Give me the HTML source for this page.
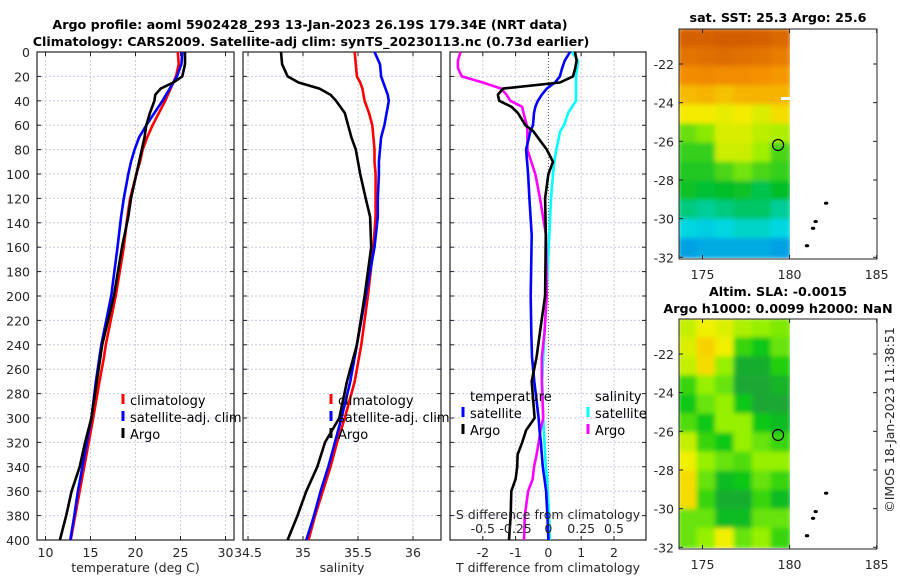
<!DOCTYPE html>
<html><head><meta charset="utf-8">
<style>
html,body{margin:0;padding:0;background:#fff;}
svg{display:block;font-family:"DejaVu Sans","Liberation Sans",sans-serif;}
.tk{font-size:12.5px;fill:#262626;}
.tt{font-size:12.7px;font-weight:bold;fill:#000;}
.lg{font-size:13px;fill:#000;}
</style></head>
<body>
<svg id="fig" width="900" height="580" viewBox="0 0 900 580" xmlns="http://www.w3.org/2000/svg">
<defs><filter id="sm" x="0" y="0" width="1" height="1"><feGaussianBlur stdDeviation="2.5"/></filter>
<clipPath id="c1"><rect x="679" y="29" width="111" height="229"/></clipPath>
<clipPath id="c2"><rect x="679" y="319" width="111" height="229"/></clipPath></defs>
<text class="tt" x="310" y="29" text-anchor="middle">Argo profile: aoml 5902428_293 13-Jan-2023 26.19S 179.34E (NRT data)</text>
<text class="tt" x="311" y="46" text-anchor="middle">Climatology: CARS2009. Satellite-adj clim: synTS_20230113.nc (0.73d earlier)</text>
<g id="plots"></g>
<text class="tt" x="778" y="22" text-anchor="middle">sat. SST: 25.3 Argo: 25.6</text>
<text class="tt" x="778" y="296" text-anchor="middle">Altim. SLA: -0.0015</text>
<text class="tt" x="778" y="313" text-anchor="middle">Argo h1000: 0.0099 h2000: NaN</text>
<text class="tk" x="0" y="0" transform="translate(894,420) rotate(-90)" text-anchor="middle">©IMOS 18-Jan-2023 11:38:51</text>
</svg>
<script>
// ---- profile data ----
const depths = [0,10,20,25,30,35,40,50,60,70,80,90,100,120,135,160,200,240,250,270,300,320,340,360,380,400];
const tempClim = [24.7,24.8,24.5,24.2,23.9,23.6,23.3,22.6,21.9,21.3,20.8,20.5,20.1,19.4,19.1,18.7,17.8,16.7,16.5,16.0,15.3,14.8,14.3,13.8,13.3,12.8];
const tempSat  = [25.2,25.1,24.6,24.2,23.8,23.4,23.0,22.1,21.2,20.4,19.9,19.5,19.2,18.7,18.4,18.0,17.3,16.2,16.0,15.6,15.1,14.6,14.1,13.6,13.2,12.75];
const tempArgo = [25.5,25.5,25.2,24.2,22.8,22.2,22.1,21.6,21.2,21.0,20.7,20.4,20.1,19.5,19.2,18.5,17.6,16.3,16.1,15.7,15.1,14.4,13.8,12.9,12.3,11.6];
const salClim = [35.47,35.48,35.49,35.52,35.54,35.55,35.56,35.60,35.63,35.64,35.65,35.65,35.66,35.66,35.66,35.64,35.59,35.53,35.51,35.47,35.38,35.31,35.25,35.18,35.11,35.05];
const salSat  = [35.65,35.70,35.71,35.73,35.75,35.77,35.78,35.76,35.74,35.71,35.70,35.69,35.69,35.68,35.68,35.65,35.57,35.49,35.47,35.43,35.35,35.29,35.23,35.16,35.10,35.03];
const salArgo = [34.80,34.81,34.86,34.96,35.15,35.25,35.30,35.38,35.41,35.44,35.48,35.50,35.52,35.57,35.61,35.62,35.56,35.49,35.46,35.40,35.33,35.20,35.13,35.03,34.95,34.86];
const diffDepths = [0,7,13,20,25,30,35,40,45,50,60,65,80,90,100,120,150,200,230,250,270,300,310,320,330,340,350,360,380,400];
const dTSat  = [0.66,0.5,0.42,0.35,0.2,-0.05,-0.2,-0.32,-0.4,-0.44,-0.47,-0.55,-0.68,-0.65,-0.62,-0.58,-0.51,-0.54,-0.52,-0.5,-0.43,-0.3,-0.27,-0.23,-0.2,-0.17,-0.12,-0.07,-0.03,0.0];
const dTArgo = [0.81,0.86,0.82,0.75,0.35,-1.38,-1.54,-1.5,-1.12,-0.93,-0.7,-0.46,-0.05,0.14,0.0,-0.1,-0.08,-0.1,-0.26,-0.36,-0.51,-0.42,-0.68,-0.8,-0.94,-0.95,-1.0,-1.13,-1.15,-1.2];
const dSSat  = [0.18,0.225,0.22,0.21,0.21,0.21,0.21,0.21,0.18,0.15,0.12,0.09,0.06,0.045,0.035,0.02,0.007,-0.015,-0.03,-0.04,-0.047,-0.04,-0.035,-0.03,-0.025,-0.02,-0.01,-0.005,0.005,0.01];
const dSArgo = [-0.67,-0.69,-0.69,-0.66,-0.5,-0.36,-0.32,-0.29,-0.2,-0.19,-0.165,-0.16,-0.16,-0.13,-0.1,-0.064,-0.018,-0.013,-0.03,-0.05,-0.05,-0.04,-0.06,-0.074,-0.09,-0.11,-0.12,-0.155,-0.18,-0.186];
const tempTicks = [10,15,20,25,30];
const salTicks = [34.5,35,35.5,36];
const dTTicks = [-2,-1,0,1,2];
const dSTickLabels = ["-0.5","-0.25","0","0.25","0.5"];
const depthTicks = [0,20,40,60,80,100,120,140,160,180,200,220,240,260,280,300,320,340,360,380,400];
// ---- map data (0..1 colour index), rows north->south, cols west->east ----
const sstGrid = [
[0.97,0.97,0.98,0.98,0.97,0.95],
[0.92,0.93,0.94,0.93,0.92,0.90],
[0.86,0.87,0.86,0.86,0.85,0.84],
[0.79,0.80,0.78,0.80,0.80,0.80],
[0.72,0.72,0.70,0.72,0.68,0.74],
[0.55,0.58,0.68,0.68,0.64,0.62],
[0.50,0.50,0.66,0.66,0.60,0.52],
[0.48,0.48,0.52,0.56,0.52,0.50],
[0.46,0.44,0.45,0.46,0.42,0.45],
[0.38,0.36,0.38,0.40,0.40,0.36],
[0.30,0.28,0.30,0.32,0.32,0.30],
[0.18,0.20,0.20,0.20,0.20,0.18]];
const slaGrid = [
[0.70,0.80,0.75,0.65,0.60,0.55],
[0.75,0.95,0.80,0.40,0.30,0.50],
[0.70,0.90,0.60,0.10,0.10,0.35],
[0.40,0.60,0.50,0.05,0.05,0.15],
[0.30,0.50,0.60,0.30,0.05,0.05],
[0.45,0.30,0.60,0.60,0.30,0.20],
[0.70,0.40,0.30,0.60,0.50,0.40],
[0.80,0.60,0.50,0.45,0.60,0.60],
[0.90,0.50,0.20,0.30,0.50,0.40],
[0.90,0.40,0.10,0.10,0.40,0.20],
[0.50,0.50,0.20,0.20,0.50,0.50],
[0.50,0.60,0.80,0.50,0.60,0.40]];
const lonTicks = [175,180,185];
const latTicks = [-22,-24,-26,-28,-30,-32];
const argoLon = 179.34, argoLat = -26.19;
const islandLon = [182.1,181.5,181.35,181.0];
const islandLat = [-29.2,-30.15,-30.5,-31.4];

const NS="http://www.w3.org/2000/svg";
const G=document.getElementById('plots');
function el(t,a,p){const e=document.createElementNS(NS,t);for(const k in a)e.setAttribute(k,a[k]);(p||G).appendChild(e);return e;}
const Y0=52,Y1=540;
const yD=d=>Y0+(Y1-Y0)*d/400;

function panel(name,x0,x1,xs,ticks,labels,lbl,grid0){
  const g=el('g',{});
  
  
  depthTicks.forEach(d=>{const l=el('line',{x1:x0,x2:x1,y1:yD(d),y2:yD(d),stroke:'#c4cae6','stroke-width':1,'stroke-dasharray':'2,2'},g);
    });
  ticks.forEach((t,i)=>{const x=xs(t);
    const zero=(grid0&&t===0);
    const l=el('line',{x1:x,x2:x,y1:Y0,y2:Y1,stroke:zero?'#555':'#d8c8d8','stroke-width':1,'stroke-dasharray':zero?'1,2':'2,2'},g);
    
    el('line',{x1:x,x2:x,y1:Y1,y2:Y1-4,stroke:'#222'},g);el('line',{x1:x,x2:x,y1:Y0,y2:Y0+4,stroke:'#222'},g);
    const tx=el('text',{x:x,y:557,'text-anchor':'middle',class:'tk'},g);tx.textContent=labels[i];
    });
  depthTicks.forEach(d=>{el('line',{x1:x0,x2:x0+4,y1:yD(d),y2:yD(d),stroke:'#222'},g);el('line',{x1:x1,x2:x1-4,y1:yD(d),y2:yD(d),stroke:'#222'},g);});
  const r=el('rect',{x:x0,y:Y0,width:x1-x0,height:Y1-Y0,fill:'none',stroke:'#222','stroke-width':1.2},g);
  
  const t=el('text',{x:(x0+x1)/2,y:572,'text-anchor':'middle',class:'tk'},g);t.textContent=lbl;
  
  return g;
}
function line(g,xs,vals,ds,col,name,w){
  const p=vals.map((v,i)=>(i?'L':'M')+xs(v).toFixed(1)+','+yD(ds[i]).toFixed(1)).join('');
  const e=el('path',{d:p,fill:'none',stroke:col,'stroke-width':w||2.6,'stroke-linejoin':'round'},g);
  
}
function legend(g,x,y,col,txt,name){
  el('line',{x1:x,x2:x,y1:y-11,y2:y-1,stroke:col,'stroke-width':3},g);
  const t=el('text',{x:x+7,y:y,class:'lg'},g);t.textContent=txt;
  
}
depthTicks.forEach(d=>{const t=el('text',{x:30,y:yD(d)+5,'text-anchor':'end',class:'tk'});t.textContent=d;
  });

const xT=v=>45.5+9.0*(v-10);
const g1=panel('temperature',37,234,xT,tempTicks,tempTicks.map(String),'temperature (deg C)');
line(g1,xT,tempClim,depths,'#ff0000','temp-climatology-line');
line(g1,xT,tempSat,depths,'#0000ff','temp-satellite-line');
line(g1,xT,tempArgo,depths,'#000000','temp-argo-line');
legend(g1,123,405,'#ff0000','climatology','legend-climatology');
legend(g1,123,422,'#0000ff','satellite-adj. clim','legend-satellite-adj');
legend(g1,123,439,'#000000','Argo','legend-argo');

const xS=v=>248+110*(v-34.5);
const g2=panel('salinity',243,441,xS,salTicks,salTicks.map(String),'salinity');
line(g2,xS,salClim,depths,'#ff0000','sal-climatology-line');
line(g2,xS,salSat,depths,'#0000ff','sal-satellite-line');
line(g2,xS,salArgo,depths,'#000000','sal-argo-line');
legend(g2,331,405,'#ff0000','climatology','legend-climatology');
legend(g2,331,422,'#0000ff','satellite-adj. clim','legend-satellite-adj');
legend(g2,331,439,'#000000','Argo','legend-argo');

const xDT=v=>548.4+32.8*v;
const xDS=v=>548.4+131.2*v;
const g3=panel('difference',450,646,xDT,dTTicks,dTTicks.map(String),'T difference from climatology',true);
line(g3,xDS,dSSat,diffDepths,'#00ffff','sal-diff-satellite-line');
line(g3,xDS,dSArgo,diffDepths,'#ff00ff','sal-diff-argo-line');
line(g3,xDT,dTSat,diffDepths,'#0000ff','temp-diff-satellite-line');
line(g3,xDT,dTArgo,diffDepths,'#000000','temp-diff-argo-line');
[['temperature',470,401],['salinity',595,401]].forEach(a=>{const t=el('text',{x:a[1],y:a[2],class:'lg'},g3);t.textContent=a[0];
  });
legend(g3,463,418,'#0000ff','satellite','legend-temp-satellite');
legend(g3,463,435,'#000000','Argo','legend-temp-argo');
legend(g3,588,418,'#00ffff','satellite','legend-sal-satellite');
legend(g3,588,435,'#ff00ff','Argo','legend-sal-argo');
{const t=el('text',{x:548,y:519,'text-anchor':'middle',class:'tk'},g3);t.textContent='S difference from climatology';
 }
[-0.5,-0.25,0,0.25,0.5].forEach((v,i)=>{const t=el('text',{x:xDS(v),y:533,'text-anchor':'middle',class:'tk'},g3);t.textContent=dSTickLabels[i];
 });

const AX0=679,AX1=877,LON0=173.65,LON1=185.02;
const xL=l=>AX0+(AX1-AX0)*(l-LON0)/(LON1-LON0);
function cmapSST(v){const s=[[0,[10,80,230]],[0.3,[0,215,225]],[0.45,[0,190,40]],[0.6,[160,240,0]],[0.72,[245,235,0]],[0.85,[245,145,0]],[1,[205,85,0]]];return interp(s,v);}
function cmapSLA(v){const s=[[0,[30,160,60]],[0.3,[10,200,20]],[0.6,[150,240,0]],[0.8,[240,240,0]],[1,[250,200,0]]];return interp(s,v);}
function interp(s,v){for(let i=1;i<s.length;i++)if(v<=s[i][0]){const a=s[i-1],b=s[i],f=(v-a[0])/(b[0]-a[0]);return 'rgb('+a[1].map((c,k)=>Math.round(c+(b[1][k]-c)*f)).join(',')+')';}return 'rgb('+s[s.length-1][1].join(',')+')';}
function map(name,top,grid,cmap,clip){
  const g=el('g',{});
  const yl=l=>top+35+(-22-l)*19.33;
  const img=el('g',{'clip-path':'url(#'+clip+')'},g);
  const inner=el('g',{filter:'url(#sm)'},img);
  const X0=679,X1=790,Ytop=top,Ybot=top+229;
  const cw=(X1-X0)/6,ch=(Ybot-Ytop)/12;
  el('rect',{x:X0,y:Ytop,width:X1-X0,height:Ybot-Ytop,fill:cmap(0.5)},inner);
  grid.forEach((row,r)=>row.forEach((v,c)=>{const cell=el('rect',{x:X0+c*cw-1,y:Ytop+r*ch-1,width:cw+2,height:ch+2,fill:cmap(v)},inner);
    }));
  const ax=el('rect',{x:AX0,y:top,width:AX1-AX0,height:230,fill:'none',stroke:'#222','stroke-width':1},g);
  
  lonTicks.forEach(l=>{const x=xL(l);el('line',{x1:x,x2:x,y1:top+230,y2:top+226,stroke:'#222'},g);el('line',{x1:x,x2:x,y1:top,y2:top+4,stroke:'#222'},g);
    const t=el('text',{x:x,y:top+250,'text-anchor':'middle',class:'tk'},g);t.textContent=l;
    });
  latTicks.forEach(l=>{const y=yl(l);el('line',{x1:AX0,x2:AX0+4,y1:y,y2:y,stroke:'#222'},g);el('line',{x1:AX1,x2:AX1-4,y1:y,y2:y,stroke:'#222'},g);
    const t=el('text',{x:AX0-5,y:y+5,'text-anchor':'end',class:'tk'},g);t.textContent=l;
    });
  islandLon.forEach((lo,i)=>{const d=el('ellipse',{cx:xL(lo),cy:yl(islandLat[i]),rx:2.2,ry:1.6,fill:'#000'},g);
    });
  const c=el('circle',{cx:xL(argoLon),cy:yl(argoLat),r:5.5,fill:'none',stroke:'#000','stroke-width':1.2},g);
  
  return g;
}
const m1=map('sst-map',29,sstGrid,cmapSST,'c1');
el('rect',{x:781,y:97,width:9,height:3,fill:'#fff'},m1);
map('sla-map',319,slaGrid,cmapSLA,'c2');
</script>
</body></html>
